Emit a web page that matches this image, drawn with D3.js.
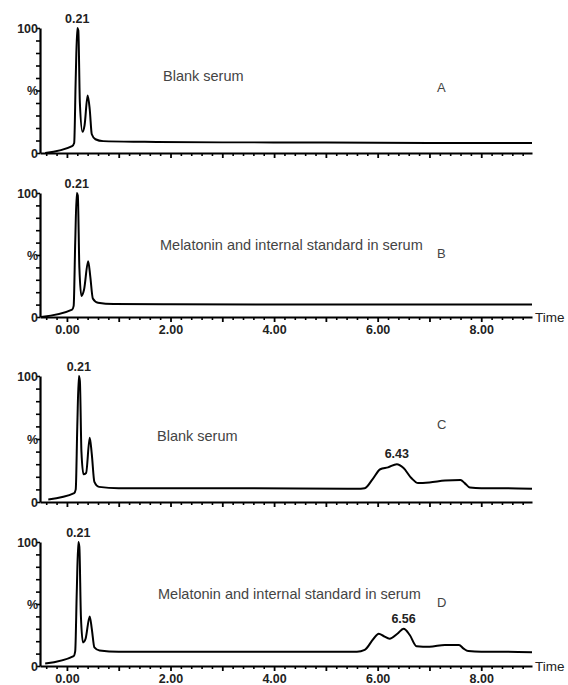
<!DOCTYPE html>
<html><head><meta charset="utf-8">
<script src="https://cdn.jsdelivr.net/npm/d3@7"></script>
<style>
html,body{margin:0;padding:0;background:#fff;}
svg{display:block;font-family:"Liberation Sans",Arial,sans-serif;}
</style></head>
<body>
<script>
// ---- data (time in min, % intensity) ----
const traceA = [[-0.42,0],[0.10,5.5],[0.14,8],[0.17,60],[0.20,100],[0.22,98],[0.25,40],[0.30,17],[0.34,22],[0.40,46],[0.44,35],[0.48,15],[0.55,11],[0.7,9.5],[1.5,9],[3,8.5],[5,8.5],[7,8],[8.98,8]];
const traceB = [[-0.50,0],[0.10,6],[0.13,9],[0.16,60],[0.19,100],[0.21,98],[0.24,40],[0.28,17],[0.33,22],[0.41,45],[0.45,33],[0.50,15],[0.6,11.5],[0.9,10.5],[2,10.3],[5,10],[8.98,10]];
const traceC = [[-0.36,2],[0.14,7],[0.17,10],[0.20,60],[0.23,100],[0.25,96],[0.28,40],[0.32,22],[0.37,23],[0.44,51],[0.48,38],[0.53,16],[0.62,12],[1,11],[3,11],[5.6,10.5],[5.75,11],[5.9,18],[6.05,26],[6.2,27.5],[6.37,30],[6.5,27],[6.65,19],[6.78,15],[7.0,15.5],[7.3,17],[7.6,17.5],[7.68,15],[7.78,11.5],[8.0,11],[8.5,11],[8.98,10.5]];
const traceD = [[-0.42,2],[0.13,8],[0.16,12],[0.19,60],[0.22,100],[0.24,96],[0.27,40],[0.31,19],[0.36,22],[0.44,40],[0.48,30],[0.53,15],[0.63,12.5],[1,11.5],[3,11.5],[5.6,11.5],[5.75,13],[5.92,22],[6.02,26],[6.12,24],[6.23,22],[6.38,26],[6.5,30],[6.62,25],[6.75,16],[7.0,15.5],[7.3,17],[7.57,17],[7.66,14],[7.75,12],[8.0,11.5],[8.5,11.5],[8.98,11]];
const panelLetters = ["A","B","C","D"];
const panelTexts = ["Blank serum","Melatonin and internal standard in serum","Blank serum","Melatonin and internal standard in serum"];
const firstPeakLabels = ["0.21","0.21","0.21","0.21"];
const firstPeakTimes = [0.20,0.19,0.23,0.22];
const secondPeakLabels = [null,null,"6.43","6.56"];
const secondPeakTimes = [null,null,6.37,6.5];
const secondPeakValues = [null,null,30,30];
const xMajorTicks = [0,1,2,3,4,5,6,7,8];
const xLabelTicks = [0,2,4,6,8];
const yTicks = [0,10,20,30,40,50,60,70,80,90,100];
const yTickLabels = {0:"0",50:"%",100:"100"};
const traces = [traceA,traceB,traceC,traceD];

// ---- layout ----
const W = 568, H = 685;
const layout = [
  {top:28, bottom:153, textY:81, letterY:92, xLabels:false},
  {top:193, bottom:317, textY:250, letterY:258, xLabels:true},
  {top:376, bottom:502, textY:441, letterY:429, xLabels:false},
  {top:542, bottom:666, textY:599, letterY:607, xLabels:true}
];
const textX = [163,160,157,158];

const svg = d3.select("body").append("svg").attr("width",W).attr("height",H);
const x = d3.scaleLinear().domain([-0.52,8.98]).range([40,532]);
const xMinor = d3.range(-4,90,2).map(d=>d/10).filter(d=>!xMajorTicks.includes(d) && d>-0.52 && d<8.98);

traces.forEach((tr,i)=>{
  const L = layout[i];
  const y = d3.scaleLinear().domain([0,100]).range([L.bottom,L.top]);
  const g = svg.append("g");

  // x axis minor ticks
  g.append("g").attr("transform",`translate(0,${L.bottom})`)
    .call(d3.axisBottom(x).tickValues(xMinor).tickSize(3).tickFormat(""))
    .call(a=>a.select(".domain").remove())
    .call(a=>a.selectAll("line").attr("stroke","#000").attr("stroke-width",1.6));
  // x axis major
  const xa = g.append("g").attr("transform",`translate(0,${L.bottom})`)
    .call(d3.axisBottom(x).tickValues(xMajorTicks).tickSize(5).tickSizeOuter(0)
      .tickFormat(d=> (L.xLabels && xLabelTicks.includes(d)) ? d3.format(".2f")(d) : ""));
  xa.select(".domain").attr("stroke","#000").attr("stroke-width",2.2);
  xa.selectAll("line").attr("stroke","#000").attr("stroke-width",1.8);
  xa.selectAll("text").attr("font-size",12.5).attr("font-weight","bold").attr("fill","#222")
    .attr("font-family","'Liberation Sans',Arial,sans-serif").attr("y",17).attr("dy",null);

  if(L.xLabels){
    g.append("text").attr("x",535).attr("y",L.bottom+4.5).attr("font-size",13.5)
      .attr("fill","#222").text("Time");
  }

  // y axis
  const ya = g.append("g").attr("transform",`translate(40,0)`)
    .call(d3.axisLeft(y).tickValues(yTicks).tickSize(4).tickSizeOuter(0)
      .tickFormat(d=> yTickLabels[d] ?? ""));
  ya.select(".domain").attr("stroke","#000").attr("stroke-width",2.2);
  ya.selectAll("line").attr("stroke","#000").attr("stroke-width",1.6);
  ya.selectAll("text").attr("font-size",12.5).attr("font-weight","bold").attr("fill","#222")
    .attr("font-family","'Liberation Sans',Arial,sans-serif").attr("x",-2);

  // trace
  const line = d3.line().x(d=>x(d[0])).y(d=>y(d[1])).curve(d3.curveMonotoneX);
  g.append("path").datum(tr).attr("d",line).attr("fill","none")
    .attr("stroke","#000").attr("stroke-width",2).attr("stroke-linejoin","round");

  // peak labels
  g.append("text").attr("x",x(firstPeakTimes[i])).attr("y",y(100)-5)
    .attr("text-anchor","middle").attr("font-size",12.5).attr("font-weight","bold")
    .attr("fill","#222").text(firstPeakLabels[i]);
  if(secondPeakLabels[i]){
    g.append("text").attr("x",x(secondPeakTimes[i])).attr("y",y(secondPeakValues[i])-6)
      .attr("text-anchor","middle").attr("font-size",12.5).attr("font-weight","bold")
      .attr("fill","#222").text(secondPeakLabels[i]);
  }

  // annotations
  g.append("text").attr("x",textX[i]).attr("y",L.textY).attr("font-size",14.5)
    .attr("fill","#444").text(panelTexts[i]);
  g.append("text").attr("x",437).attr("y",L.letterY).attr("font-size",13)
    .attr("fill","#444").text(panelLetters[i]);
});
</script>
</body></html>
